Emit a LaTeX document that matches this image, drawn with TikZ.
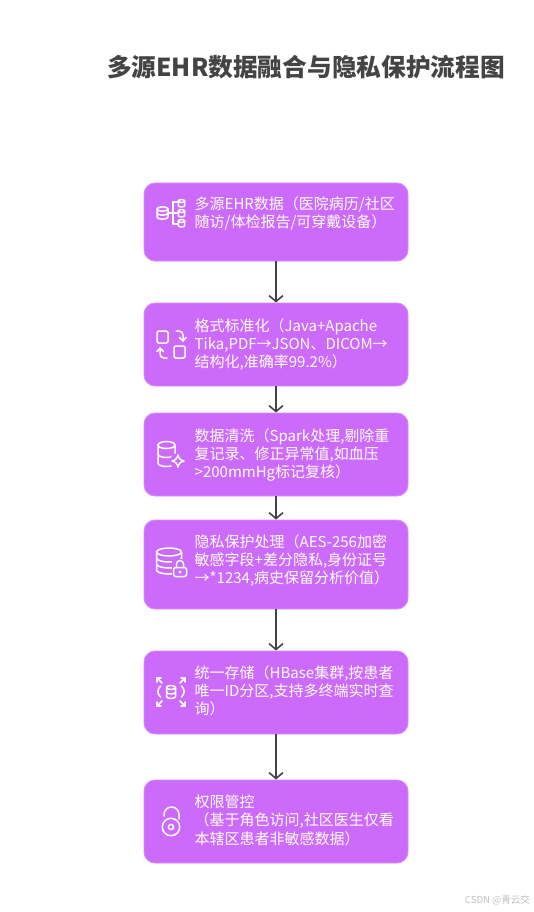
\documentclass[tikz,border=0pt]{standalone}
\usepackage{fontspec}
\setmainfont{Noto Sans CJK SC}
\usetikzlibrary{arrows.meta}
\definecolor{boxfill}{HTML}{CC6BFB}
\definecolor{boxedge}{HTML}{D68BFC}
\definecolor{inkgray}{HTML}{444444}
\tikzset{
  stepbox/.style={draw=boxedge, line width=0.8pt, fill=boxfill, rounded corners=11pt, minimum width=264pt, inner sep=0pt},
  boxtext/.style={anchor=north west, inner sep=0pt, align=left, text=white, font=\fontsize{15}{18.4}\selectfont},
  flow/.style={draw=inkgray, line width=1.8pt, -{Straight Barb[length=6pt,width=14pt,line width=1.6pt]}},
  icon/.style={draw=white, line width=1.5pt, line cap=round, line join=round},
}
% cylinder: centre x, top y, x radius, y radius, height
\newcommand{\dbcyl}[5]{
  \draw[icon] (#1,#2) ellipse [x radius=#3, y radius=#4];
  \draw[icon] (#1-#3,#2) -- (#1-#3,#2+#5) arc [start angle=180, end angle=0, x radius=#3, y radius=#4] -- (#1+#3,#2);
}
% band across a cylinder
\newcommand{\dbband}[4]{
  \draw[icon] (#1-#3,#2) arc [start angle=180, end angle=0, x radius=#3, y radius=#4];
}
\begin{document}
\begin{tikzpicture}[x=1pt, y=-1pt]
  \useasboundingbox (0,0) rectangle (534,912);

  % Title
  \node[text=inkgray, font=\fontsize{24.7}{28}\selectfont\bfseries] (title) at (306,67) {多源EHR数据融合与隐私保护流程图};

  % Boxes
  \node[stepbox, minimum height=78pt] (ehr) at (276,222) {};
  \node[stepbox, minimum height=83pt] (format) at (276,344.5) {};
  \node[stepbox, minimum height=83pt] (clean) at (276,454.5) {};
  \node[stepbox, minimum height=89pt] (privacy) at (276,564.5) {};
  \node[stepbox, minimum height=83pt] (store) at (276,692.5) {};
  \node[stepbox, minimum height=83pt] (access) at (276,821.5) {};

  % Box texts
  \node[boxtext] (ehrtext) at (194.5,196) {多源EHR数据（医院病历/社区\\随访/体检报告/可穿戴设备）};
  \node[boxtext] (formattext) at (194.5,318) {格式标准化（Java+Apache\\Tika,PDF→JSON、DICOM→\\结构化,准确率99.2\%）};
  \node[boxtext] (cleantext) at (194.5,428) {数据清洗（Spark处理,剔除重\\复记录、修正异常值,如血压\\>200mmHg标记复核）};
  \node[boxtext] (privacytext) at (194.5,534) {隐私保护处理（AES-256加密\\敏感字段+差分隐私,身份证号\\→*1234,病史保留分析价值）};
  \node[boxtext] (storetext) at (194.5,665) {统一存储（HBase集群,按患者\\唯一ID分区,支持多终端实时查\\询）};
  \node[boxtext] (accesstext) at (194.5,794.5) {权限管控\\（基于角色访问,社区医生仅看\\本辖区患者非敏感数据）};

  % Connectors
  \draw[flow] (ehr) -- (format);
  \draw[flow] (format) -- (clean);
  \draw[flow] (clean) -- (privacy);
  \draw[flow] (privacy) -- (store);
  \draw[flow] (store) -- (access);

  % Icon of the first box
  \dbcyl{162.5}{209}{5.5}{2.2}{8}
  \dbband{162.5}{213}{5.5}{2.2}
  \dbcyl{181.5}{201}{3.2}{1.5}{4.5}
  \dbcyl{181.5}{211}{3.2}{1.5}{4.5}
  \dbcyl{181.5}{221}{3.2}{1.5}{4.5}
  \draw[icon] (178,202) -- (173,202) -- (173,224) -- (178,224);
  \draw[icon] (168.5,213) -- (178,213);

  % Icon of the second box
  \draw[icon, rounded corners=1.5pt] (157,331) rectangle (168,343);
  \draw[icon, rounded corners=1.5pt] (174,346) rectangle (185,358);
  \draw[icon] (176,331) -- (179,331) arc [start angle=-90, end angle=0, radius=4] -- (183,341);
  \draw[icon] (179.5,337.5) -- (183,341) -- (186,337.5);
  \draw[icon] (167,358) -- (164,358) arc [start angle=90, end angle=180, radius=4] -- (160,348);
  \draw[icon] (157,351.5) -- (160,348) -- (163.5,351.5);

  % Icon of the third box
  \dbcyl{166.5}{445}{8.5}{3.5}{18}
  \dbband{166.5}{454}{8.5}{3.5}
  \fill[boxfill] (178,461) circle [radius=8];
  \draw[icon] (178,455) .. controls (178.8,458.5) and (180.5,460.2) .. (184,461)
    .. controls (180.5,461.8) and (178.8,463.5) .. (178,467)
    .. controls (177.2,463.5) and (175.5,461.8) .. (172,461)
    .. controls (175.5,460.2) and (177.2,458.5) .. (178,455) -- cycle;

  % Icon of the fourth box
  \dbcyl{169}{552}{12.5}{4}{18}
  \dbband{169}{558}{12.5}{4}
  \dbband{169}{564}{12.5}{4}
  \fill[boxfill] (172,559) rectangle (189,578);
  \draw[icon, rounded corners=1.5pt] (173.5,567.5) rectangle (186.5,576.5);
  \draw[icon] (176.5,567.5) -- (176.5,564) arc [start angle=180, end angle=360, radius=3.5] -- (183.5,567.5);
  \fill[white] (180,572) circle [radius=1.6];

  % Icon of the fifth box
  \dbcyl{171}{687.5}{4.5}{2}{9}
  \dbband{171}{692}{4.5}{2}
  \draw[icon] (160.5,686) .. controls (157,689.5) and (157,693.5) .. (160.5,697);
  \draw[icon] (181.5,686) .. controls (185,689.5) and (185,693.5) .. (181.5,697);
  \draw[icon] (162,683) -- (157,678);
  \draw[icon] (157,682) -- (157,678) -- (161,678);
  \draw[icon] (180,683) -- (185,678);
  \draw[icon] (185,682) -- (185,678) -- (181,678);
  \draw[icon] (162,701) -- (157,706);
  \draw[icon] (157,702) -- (157,706) -- (161,706);
  \draw[icon] (180,701) -- (185,706);
  \draw[icon] (185,702) -- (185,706) -- (181,706);

  % Icon of the last box
  \draw[icon] (171,827) circle [radius=8.7];
  \draw[icon] (171,827) circle [radius=2.6];
  \draw[icon] (164,816) -- (164,814.5) arc [start angle=180, end angle=360, radius=7.5] -- (179,819);

  % Watermark
  \node[text=black!25, font=\fontsize{9.6}{11}\selectfont] (mark) at (497.5,900) {CSDN @青云交};
\end{tikzpicture}
\end{document}
